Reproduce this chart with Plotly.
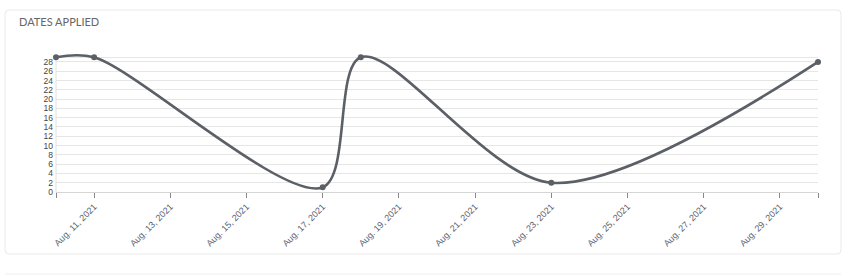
import plotly.graph_objects as go

dates = ["2021-08-10", "2021-08-11", "2021-08-17", "2021-08-18", "2021-08-23", "2021-08-30"]
counts = [29, 29, 1, 29, 2, 28]

tick_dates = ["2021-08-10", "2021-08-11", "2021-08-13", "2021-08-15", "2021-08-17", "2021-08-19",
              "2021-08-21", "2021-08-23", "2021-08-25", "2021-08-27", "2021-08-29", "2021-08-30"]
tick_labels = ["", "Aug. 11, 2021", "Aug. 13, 2021", "Aug. 15, 2021", "Aug. 17, 2021", "Aug. 19, 2021",
               "Aug. 21, 2021", "Aug. 23, 2021", "Aug. 25, 2021", "Aug. 27, 2021", "Aug. 29, 2021", ""]
y_ticks = list(range(0, 29, 2)) + [29]
y_labels = [str(v) for v in range(0, 29, 2)] + [""]
Y_MAX = 29
Y_TOP = 31

W, H = 853, 276
unit = 135 / Y_MAX
L, R, B = 56, 35, 84
T = round(H - B - Y_TOP * unit)
pw, ph = W - L - R, H - T - B

def px(x):
    return (x - L) / pw

def py(y):
    return (H - B - y) / ph

fig = go.Figure()
fig.add_trace(go.Scatter(
    x=dates, y=counts, mode="lines+markers",
    line=dict(color="#5b5f66", width=2.6, shape="spline", smoothing=0.9),
    marker=dict(color="#5b5f66", size=6),
    cliponaxis=False,
    hoverinfo="x+y", showlegend=False,
))

# y axis line only up to top gridline
fig.add_shape(type="line", xref="paper", yref="y", x0=0, x1=0, y0=0, y1=Y_MAX,
              line=dict(color="#e0e0e0", width=1), layer="below")

# card with rounded corners
x0, x1, y0, y1 = px(5), px(841), py(254), py(10)
rx, ry = 4 / pw, 4 / ph
path = (f"M {x0+rx},{y1} L {x1-rx},{y1} Q {x1},{y1} {x1},{y1-ry} "
        f"L {x1},{y0+ry} Q {x1},{y0} {x1-rx},{y0} L {x0+rx},{y0} Q {x0},{y0} {x0},{y0+ry} "
        f"L {x0},{y1-ry} Q {x0},{y1} {x0+rx},{y1} Z")
fig.add_shape(type="path", path=path, xref="paper", yref="paper",
              line=dict(color="#e9e9e9", width=1), fillcolor="rgba(0,0,0,0)", layer="below")
fig.add_shape(type="line", xref="paper", yref="paper", x0=px(5), x1=px(841), y0=py(274), y1=py(274),
              line=dict(color="#eeeeee", width=1))

fig.add_annotation(text="DATES APPLIED", xref="paper", yref="paper", x=px(17), y=py(22),
                   xanchor="left", yanchor="middle", showarrow=False,
                   font=dict(family="Lato", size=11, color="#666666"))

fig.update_layout(
    width=W, height=H, margin=dict(l=L, r=R, t=T, b=B),
    paper_bgcolor="white", plot_bgcolor="white",
    font=dict(family="Liberation Sans, Arial", color="#555555"),
    xaxis=dict(type="date", range=["2021-08-10", "2021-08-30"], tickmode="array",
               tickvals=tick_dates, ticktext=tick_labels, tickangle=-45,
               ticks="outside", ticklen=5, tickcolor="#888888", tickwidth=1,
               showgrid=False, showline=True, linecolor="#d6d6d6", linewidth=1,
               zeroline=False, tickfont=dict(size=9, color="#5a6272"), fixedrange=True),
    yaxis=dict(range=[0, Y_TOP], tickmode="array", tickvals=y_ticks, ticktext=y_labels,
               showgrid=True, gridcolor="#e6e6e6", gridwidth=1, ticks="", ticklabelstandoff=2,
               showline=False, zeroline=False,
               tickfont=dict(size=8.5, color="#444444"), fixedrange=True),
)

fig.write_html("out.html")
